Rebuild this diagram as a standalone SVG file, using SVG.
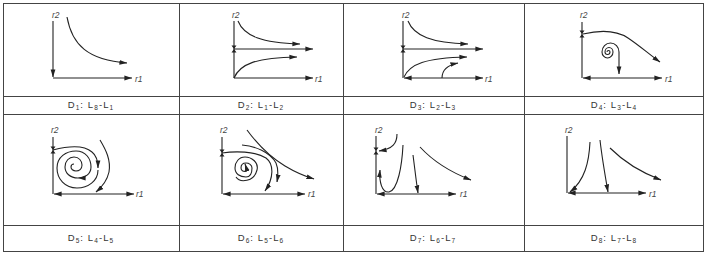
<svg xmlns="http://www.w3.org/2000/svg" width="708" height="257" viewBox="0 0 708 257">
<style>
.grid{fill:none;stroke:#444;stroke-width:1}
.ax{fill:none;stroke:#222;stroke-width:1.1}
.cv{fill:none;stroke:#222;stroke-width:1.1}
.cap{font-family:"Liberation Sans",Arial,sans-serif;font-size:9.5px;letter-spacing:1.1px;fill:#333;text-anchor:middle}
.sub{font-size:6.5px}
.lbl{font-family:"Liberation Sans",Arial,sans-serif;font-size:8.5px;font-style:italic;fill:#444}
.hg{fill:#222}
</style>
<defs>
<marker id="ah" viewBox="0 0 8 6" refX="7.6" refY="3" markerWidth="8" markerHeight="6" markerUnits="userSpaceOnUse" orient="auto-start-reverse">
<path d="M0,0.6 L8,3 L0,5.4 Z" fill="#222"/>
</marker>
<path id="hg" d="M-2.5,-3.5 H2.5 L0,0 Z M-2.5,3.5 H2.5 L0,0 Z"/>
</defs>
<rect width="708" height="257" fill="#fff"/>
<g id="table">
<rect class="grid" x="3.5" y="3.5" width="700" height="248"/>
<path class="grid" d="M3.5,96.5 H703.5 M3.5,114.5 H703.5 M3.5,225.5 H703.5 M179.5,3.5 V251.5 M343.5,3.5 V251.5 M524.5,3.5 V251.5"/>
</g>
<g id="captions" xml:space="preserve">
<text class="cap" x="91" y="108">D<tspan class="sub" dy="2">1</tspan><tspan dy="-2">: L</tspan><tspan class="sub" dy="2">8</tspan><tspan dy="-2">-L</tspan><tspan class="sub" dy="2">1</tspan></text>
<text class="cap" x="261" y="108">D<tspan class="sub" dy="2">2</tspan><tspan dy="-2">: L</tspan><tspan class="sub" dy="2">1</tspan><tspan dy="-2">-L</tspan><tspan class="sub" dy="2">2</tspan></text>
<text class="cap" x="433" y="108">D<tspan class="sub" dy="2">3</tspan><tspan dy="-2">:  L</tspan><tspan class="sub" dy="2">2</tspan><tspan dy="-2">-L</tspan><tspan class="sub" dy="2">3</tspan></text>
<text class="cap" x="614" y="108">D<tspan class="sub" dy="2">4</tspan><tspan dy="-2">: L</tspan><tspan class="sub" dy="2">3</tspan><tspan dy="-2">-L</tspan><tspan class="sub" dy="2">4</tspan></text>
<text class="cap" x="91" y="241">D<tspan class="sub" dy="2">5</tspan><tspan dy="-2">:  L</tspan><tspan class="sub" dy="2">4</tspan><tspan dy="-2">-L</tspan><tspan class="sub" dy="2">5</tspan></text>
<text class="cap" x="261" y="241">D<tspan class="sub" dy="2">6</tspan><tspan dy="-2">: L</tspan><tspan class="sub" dy="2">5</tspan><tspan dy="-2">-L</tspan><tspan class="sub" dy="2">6</tspan></text>
<text class="cap" x="433" y="241">D<tspan class="sub" dy="2">7</tspan><tspan dy="-2">:  L</tspan><tspan class="sub" dy="2">6</tspan><tspan dy="-2">-L</tspan><tspan class="sub" dy="2">7</tspan></text>
<text class="cap" x="614" y="241">D<tspan class="sub" dy="2">8</tspan><tspan dy="-2">: L</tspan><tspan class="sub" dy="2">7</tspan><tspan dy="-2">-L</tspan><tspan class="sub" dy="2">8</tspan></text>
</g>
<g id="panel-d1">
<text class="lbl" x="52" y="17.5">r2</text>
<text class="lbl" x="135" y="81.5">r1</text>
<path class="ax" d="M53,21 V77" marker-end="url(#ah)"/>
<path class="ax" d="M53,78 H132" marker-end="url(#ah)"/>
</g>
<g id="panel-d2">
<text class="lbl" x="232" y="17.5">r2</text>
<text class="lbl" x="315" y="81.5">r1</text>
<path class="ax" d="M234,21 V78"/>
<use href="#hg" class="hg" transform="translate(234,49)"/>
<path class="ax" d="M234,78 H313" marker-end="url(#ah)"/>
</g>
<g id="panel-d3">
<text class="lbl" x="402" y="17.5">r2</text>
<text class="lbl" x="485" y="81.5">r1</text>
<path class="ax" d="M403,21 V78"/>
<use href="#hg" class="hg" transform="translate(403,49)"/>
<path class="ax" d="M404,78 H483" marker-start="url(#ah)" marker-end="url(#ah)"/>
</g>
<g id="panel-d4">
<text class="lbl" x="580" y="17.5">r2</text>
<text class="lbl" x="665" y="81.5">r1</text>
<path class="ax" d="M582,22 V78"/>
<use href="#hg" class="hg" transform="translate(582,34)"/>
<path class="ax" d="M583,78 H662" marker-start="url(#ah)" marker-end="url(#ah)"/>
</g>
<g id="panel-d5">
<text class="lbl" x="51" y="133">r2</text>
<text class="lbl" x="136" y="197">r1</text>
<path class="ax" d="M53,137 V194"/>
<use href="#hg" class="hg" transform="translate(53,150)"/>
<path class="ax" d="M54,194 H134" marker-start="url(#ah)" marker-end="url(#ah)"/>
</g>
<g id="panel-d6">
<text class="lbl" x="220" y="133">r2</text>
<text class="lbl" x="308" y="197">r1</text>
<path class="ax" d="M222,137 V194"/>
<use href="#hg" class="hg" transform="translate(222,153)"/>
<path class="ax" d="M223,194 H305" marker-start="url(#ah)" marker-end="url(#ah)"/>
</g>
<g id="panel-d7">
<text class="lbl" x="375" y="133">r2</text>
<text class="lbl" x="460" y="197">r1</text>
<path class="ax" d="M376,136 V194"/>
<use href="#hg" class="hg" transform="translate(376,151)"/>
<path class="ax" d="M377,194 H456" marker-start="url(#ah)" marker-end="url(#ah)"/>
</g>
<g id="panel-d8">
<text class="lbl" x="565" y="133">r2</text>
<text class="lbl" x="649" y="197">r1</text>
<path class="ax" d="M567,136 V193"/>
<path class="ax" d="M568,193 H646" marker-start="url(#ah)" marker-end="url(#ah)"/>
</g>
<g id="connectors">
<path class="cv" d="M67,17 C72,45 88,60 127,63" marker-end="url(#ah)"/>
<path class="cv" d="M234,49 H313" marker-end="url(#ah)"/>
<path class="cv" d="M238,21 C244,36 262,43 300,44" marker-end="url(#ah)"/>
<path class="cv" d="M234,78 C240,64 255,58 297,57" marker-end="url(#ah)"/>
<path class="cv" d="M403,49 H483" marker-end="url(#ah)"/>
<path class="cv" d="M408,21 C414,36 432,43 468,44" marker-end="url(#ah)"/>
<path class="cv" d="M404,77 C410,64 425,58 467,57" marker-end="url(#ah)"/>
<path class="cv" d="M442,78 C442,70 448,65 458,63" marker-end="url(#ah)"/>
<path class="cv" d="M583,34 C600,30 616,30 628,38 C640,46 650,55 660,62" marker-end="url(#ah)"/>
<path class="cv" d="M607,52 A1.5,1.5 0 0 1 610,52 A2.5,2.5 0 0 1 605,52 A4,4.5 0 0 1 613,52 A5.5,6 0 0 1 602,52 A8.5,9 0 0 1 619,52 C619,60 619,66 619,74" marker-end="url(#ah)"/>
<path class="cv" d="M53,150 C68,146 84,145 92,152 C97,156 98,162 98,168" marker-end="url(#ah)"/>
<path class="cv" d="M98,170 C98,181 88,188 77,188 C65,188 57,179 57,168 C57,157 66,151 76,151 C86,151 91,159 91,167 C91,174 85,178 78,178" marker-end="url(#ah)"/>
<path class="cv" d="M78,178 C70,178 65,173 65,167 C65,161 69,157 74,157 C79,157 82,161 82,165 C82,169 79,171 76,171 C73,171 71,169 71,167 C71,165 72,164 74,164"/>
<path class="cv" d="M100,140 C106,150 111,160 109,172 C107,181 102,187 96,192" marker-end="url(#ah)"/>
<path class="cv" d="M222,153 C235,151 255,151 266,158 C274,164 274,178 265,191" marker-end="url(#ah)"/>
<path class="cv" d="M236,177 C240,183 254,182 257,170 C259,162 251,157 245,157 C239,157 235,162 235,168 C235,174 240,177 246,177 C250,177 252,173 252,168 C252,165 249,163 246,163 C243,163 241,165 241,168 C241,171 244,172 246,171 C247,169 246,167 245,164" marker-end="url(#ah)"/>
<path class="cv" d="M242,145 C255,146 270,152 276,163 C279,170 278,176 277,182" marker-end="url(#ah)"/>
<path class="cv" d="M247,130 C258,145 270,157 285,166 C295,172 304,176 314,179" marker-end="url(#ah)"/>
<path class="cv" d="M397,134 C397,143 393,149 379,151" marker-end="url(#ah)"/>
<path class="cv" d="M403,145 C402,165 398,190 389,192 C382,193 379,182 380,170" marker-end="url(#ah)"/>
<path class="cv" d="M413,155 C415,170 416,180 418,193" marker-end="url(#ah)"/>
<path class="cv" d="M420,147 C432,160 450,172 471,180" marker-end="url(#ah)"/>
<path class="cv" d="M590,142 C589,162 585,180 570,192" marker-end="url(#ah)"/>
<path class="cv" d="M600,140 C602,158 605,175 608,192" marker-end="url(#ah)"/>
<path class="cv" d="M610,148 C622,160 640,172 661,180" marker-end="url(#ah)"/>
</g>
</svg>
